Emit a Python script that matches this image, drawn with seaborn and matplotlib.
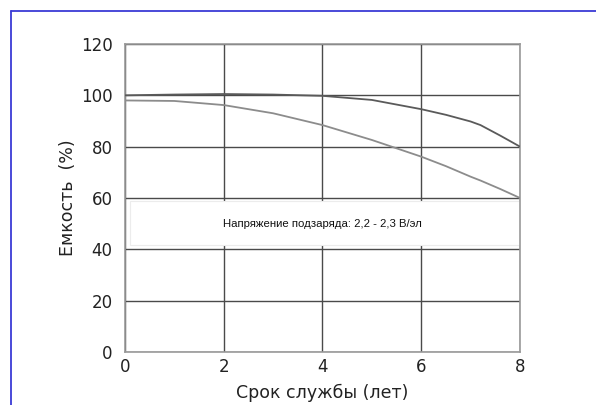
import matplotlib
matplotlib.use("Agg")
import matplotlib.pyplot as plt
from matplotlib.lines import Line2D
import seaborn as sns
import pandas as pd

years = [0, 1, 2, 3, 4, 5, 6, 6.5, 7, 7.2, 7.6, 8]
cap_upper = [100, 100.3, 100.5, 100.3, 99.8, 98.2, 94.6, 92.4, 89.8, 88.4, 84.3, 80]
cap_lower = [98, 97.8, 96.2, 93, 88.4, 82.6, 76.1, 72.4, 68.3, 66.8, 63.5, 60]

x_ticks = [0, 2, 4, 6, 8]
y_ticks = [0, 20, 40, 60, 80, 100, 120]
note = "Напряжение подзаряда: 2,2 - 2,3 В/эл"
x_label = "Срок службы (лет)"
y_label = "Емкость  (%)"

sns.set_style("white")
plt.rcParams['font.family'] = ['DejaVu Sans']

df = pd.DataFrame({
    "year": years + years,
    "cap": cap_upper + cap_lower,
    "series": ["upper"] * len(years) + ["lower"] * len(years),
})

fig = plt.figure(figsize=(5.96, 4.05), dpi=100)
ax = fig.add_axes([0.2097, 0.1309, 0.6628, 0.7605])

sns.lineplot(data=df, x="year", y="cap", hue="series",
             palette={"upper": "#5a5a5a", "lower": "#8c8c8c"},
             linewidth=1.3, legend=False, ax=ax, zorder=3)

ax.set_xlim(0, 8)
ax.set_ylim(0, 120)
ax.set_xticks(x_ticks)
ax.set_yticks(y_ticks)
ax.grid(True, color="#4a4a4a", linewidth=1.0, zorder=1)
ax.set_axisbelow(True)
for s in ax.spines.values():
    s.set_color("#999999")
    s.set_linewidth(1.2)
ax.tick_params(axis="both", length=0, labelsize=12, colors="#222222")
ax.tick_params(axis="x", pad=4)
ax.tick_params(axis="y", pad=9)
ax.set_xlabel(x_label, fontsize=12.5, color="#222222", labelpad=6)
ax.set_ylabel(y_label, fontsize=12.5, color="#222222", labelpad=3)

# white note box covering grid between 40 and 60
ax.axhspan(41.5, 58.8, xmin=0.013, xmax=1.0, facecolor="white",
           edgecolor="#ececec", linewidth=0.8, zorder=2)
ax.text(4.0, 49.8, note, ha="center", va="center", fontsize=8.2,
        color="#111111", family=['Liberation Sans', 'DejaVu Sans'], zorder=4)

# blue partial frame
fig.add_artist(Line2D([10.5/596, 10.5/596], [0, 1 - 11/405],
                      transform=fig.transFigure, color="#3a3ad6", linewidth=1.3))
fig.add_artist(Line2D([10.5/596, 1], [1 - 11/405, 1 - 11/405],
                      transform=fig.transFigure, color="#3a3ad6", linewidth=1.3))

fig.savefig("out.png", dpi=100)
